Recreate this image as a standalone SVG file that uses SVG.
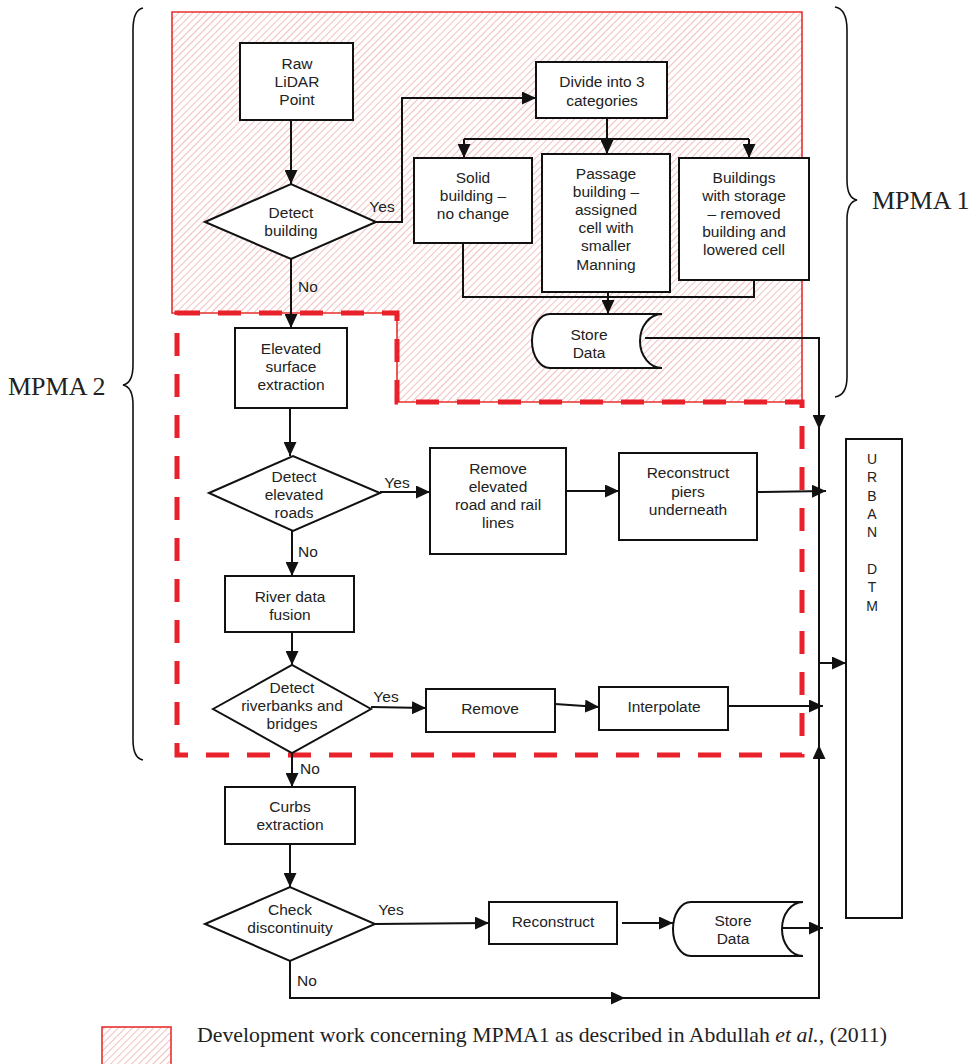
<svg xmlns="http://www.w3.org/2000/svg" width="970" height="1064" viewBox="0 0 970 1064">
<defs>
<pattern id="hatch" patternUnits="userSpaceOnUse" width="5" height="5" patternTransform="rotate(45)">
<rect width="5" height="5" fill="#fff"/>
<line x1="0" y1="0" x2="0" y2="5" stroke="#eb9c9c" stroke-width="1.3"/>
</pattern>
<marker id="ah" viewBox="0 0 14 13" refX="14" refY="6.5" markerWidth="14" markerHeight="13" markerUnits="userSpaceOnUse" orient="auto">
<path d="M0,0 L14,6.5 L0,13 z" fill="#111"/>
</marker>
</defs>
<style>
.box{fill:#fff;stroke:#111;stroke-width:2}
.t{font-family:"Liberation Sans",Arial,sans-serif;font-size:15.5px;fill:#222;text-anchor:middle}
.lbl{font-family:"Liberation Sans",Arial,sans-serif;font-size:15.5px;fill:#222;text-anchor:middle}
.big{font-family:"Liberation Serif","Times New Roman",serif;font-size:26px;fill:#222}
.c{fill:none;stroke:#111;stroke-width:2}
.ca{fill:none;stroke:#111;stroke-width:2;marker-end:url(#ah)}
.brace{fill:none;stroke:#111;stroke-width:1.6}
</style>
<rect width="970" height="1064" fill="#fff"/>

<g id="mpma1-area">
<path d="M172,12 H802 V402 H397 V313 H172 Z" fill="url(#hatch)" stroke="#e8302c" stroke-width="1.6"/>
</g>
<g id="mpma2-area">
<path d="M177,313 H397 V402 H802 V755 H177 Z" fill="none" stroke="#e8212b" stroke-width="5" stroke-dasharray="23 18"/>
</g>

<g id="braces">
<path class="brace" d="M143,8 Q133,10 133,30 V365 Q133,383 123,385 Q133,387 133,405 V740 Q133,758 143,760"/>
<path class="brace" d="M835,7 Q847,9 847,30 V180 Q847,198 857,200 Q847,202 847,220 V377 Q847,395 835,397"/>
<text class="big" x="872" y="209">MPMA 1</text>
<text class="big" x="8" y="395">MPMA 2</text>
</g>

<g id="connectors">
<path class="ca" d="M291,120 V184"/>
<path class="ca" d="M376,222 H402 V98 H536"/>
<path class="c" d="M607,118 V139 M464,139 H749"/>
<path class="ca" d="M464,139 V158"/>
<path class="ca" d="M607,139 V154"/>
<path class="ca" d="M749,139 V158"/>
<path class="c" d="M463,243 V297 H754 V280"/>
<path class="ca" d="M608,292 V314"/>
<path class="ca" d="M645,338 H819 V429"/>
<path class="c" d="M819,429 V745"/>
<path class="ca" d="M291,259 V328"/>
<path class="ca" d="M290,408 V456"/>
<path class="ca" d="M380,492 H430"/>
<path class="ca" d="M566,491 H619"/>
<path class="ca" d="M757,492 L826,491"/>
<path class="ca" d="M292,531 V576"/>
<path class="ca" d="M292,632 V665"/>
<path class="ca" d="M371,707 L426,708"/>
<path class="ca" d="M555,704 L599,707"/>
<path class="ca" d="M728,706 H823"/>
<path class="ca" d="M819,663 H846"/>
<path class="ca" d="M292,753 V787"/>
<path class="ca" d="M290,844 V887"/>
<path class="ca" d="M375,924 L489,923"/>
<path class="ca" d="M622,923 H673"/>
<path class="ca" d="M782,928 H823"/>
<path class="ca" d="M290,961 V998 H819 V745"/>
<path class="ca" d="M600,998 H625"/>
<text class="lbl" x="382" y="212">Yes</text>
<text class="lbl" x="308" y="292">No</text>
<text class="lbl" x="397" y="488">Yes</text>
<text class="lbl" x="308" y="557">No</text>
<text class="lbl" x="386" y="702">Yes</text>
<text class="lbl" x="310" y="774">No</text>
<text class="lbl" x="391" y="915">Yes</text>
<text class="lbl" x="307" y="986">No</text>
</g>

<g id="raw-lidar">
<rect class="box" x="240" y="43" width="113" height="77"/>
<text class="t" x="297" y="69">Raw</text>
<text class="t" x="297" y="87">LiDAR</text>
<text class="t" x="297" y="105">Point</text>
</g>
<g id="detect-building">
<polygon class="box" points="205,222 291,184 376,222 291,259"/>
<text class="t" x="291" y="218">Detect</text>
<text class="t" x="291" y="236">building</text>
</g>
<g id="divide">
<rect class="box" x="536" y="62" width="131" height="56"/>
<text class="t" x="602" y="87">Divide into 3</text>
<text class="t" x="602" y="106">categories</text>
</g>
<g id="solid">
<rect class="box" x="414" y="158" width="118" height="85"/>
<text class="t" x="473" y="183">Solid</text>
<text class="t" x="473" y="201">building –</text>
<text class="t" x="473" y="219">no change</text>
</g>
<g id="passage">
<rect class="box" x="542" y="154" width="128" height="138"/>
<text class="t" x="606" y="179">Passage</text>
<text class="t" x="606" y="197">building –</text>
<text class="t" x="606" y="215">assigned</text>
<text class="t" x="606" y="233">cell with</text>
<text class="t" x="606" y="251">smaller</text>
<text class="t" x="606" y="270">Manning</text>
</g>
<g id="storage">
<rect class="box" x="679" y="158" width="130" height="122"/>
<text class="t" x="744" y="183">Buildings</text>
<text class="t" x="744" y="201">with storage</text>
<text class="t" x="744" y="219">– removed</text>
<text class="t" x="744" y="237">building and</text>
<text class="t" x="744" y="255">lowered cell</text>
</g>
<g id="store1">
<path class="box" d="M550,314 A18,27 0 0 0 550,368 H662 A22,27 0 0 1 662,314 Z"/>
<text class="t" x="589" y="340">Store</text>
<text class="t" x="589" y="358">Data</text>
</g>
<g id="elevated-surface">
<rect class="box" x="235" y="328" width="112" height="80"/>
<text class="t" x="291" y="354">Elevated</text>
<text class="t" x="291" y="372">surface</text>
<text class="t" x="291" y="390">extraction</text>
</g>
<g id="detect-roads">
<polygon class="box" points="209,493 293,456 380,493 293,531"/>
<text class="t" x="294" y="482">Detect</text>
<text class="t" x="294" y="500">elevated</text>
<text class="t" x="294" y="518">roads</text>
</g>
<g id="remove-elevated">
<rect class="box" x="430" y="448" width="136" height="106"/>
<text class="t" x="498" y="474">Remove</text>
<text class="t" x="498" y="492">elevated</text>
<text class="t" x="498" y="510">road and rail</text>
<text class="t" x="498" y="528">lines</text>
</g>
<g id="reconstruct-piers">
<rect class="box" x="619" y="453" width="138" height="87"/>
<text class="t" x="688" y="478">Reconstruct</text>
<text class="t" x="688" y="497">piers</text>
<text class="t" x="688" y="515">underneath</text>
</g>
<g id="river-fusion">
<rect class="box" x="225" y="576" width="129" height="56"/>
<text class="t" x="290" y="602">River data</text>
<text class="t" x="290" y="620">fusion</text>
</g>
<g id="detect-river">
<polygon class="box" points="213,709 292,665 371,709 292,753"/>
<text class="t" x="292" y="693">Detect</text>
<text class="t" x="292" y="711">riverbanks and</text>
<text class="t" x="292" y="729">bridges</text>
</g>
<g id="remove">
<rect class="box" x="426" y="689" width="129" height="43"/>
<text class="t" x="490" y="714">Remove</text>
</g>
<g id="interpolate">
<rect class="box" x="599" y="687" width="129" height="43"/>
<text class="t" x="664" y="712">Interpolate</text>
</g>
<g id="urban-dtm">
<rect class="box" x="846" y="439" width="56" height="479"/>
<g style="font-family:'Liberation Sans',Arial,sans-serif;font-size:14px;fill:#222;text-anchor:middle">
<text x="872" y="464">U</text>
<text x="872" y="482">R</text>
<text x="872" y="501">B</text>
<text x="872" y="519">A</text>
<text x="872" y="537">N</text>
<text x="872" y="574">D</text>
<text x="872" y="592">T</text>
<text x="872" y="611">M</text>
</g>
</g>
<g id="curbs">
<rect class="box" x="225" y="787" width="130" height="57"/>
<text class="t" x="290" y="812">Curbs</text>
<text class="t" x="290" y="830">extraction</text>
</g>
<g id="check">
<polygon class="box" points="205,924 290,887 375,924 290,961"/>
<text class="t" x="290" y="915">Check</text>
<text class="t" x="290" y="933">discontinuity</text>
</g>
<g id="reconstruct">
<rect class="box" x="489" y="902" width="128" height="42"/>
<text class="t" x="553" y="927">Reconstruct</text>
</g>
<g id="store2">
<path class="box" d="M691,902 A18,27 0 0 0 691,956 H803 A21,27 0 0 1 803,902 Z"/>
<text class="t" x="733" y="926">Store</text>
<text class="t" x="733" y="944">Data</text>
</g>

<g id="legend">
<rect x="102" y="1027" width="69" height="50" fill="url(#hatch)" stroke="#e8302c" stroke-width="1.6"/>
<text x="197" y="1042" textLength="690" lengthAdjust="spacingAndGlyphs" style="font-family:'Liberation Serif','Times New Roman',serif;font-size:21px;fill:#222">Development work concerning MPMA1 as described in Abdullah <tspan font-style="italic">et al.,</tspan> (2011)</text>
</g>
</svg>
